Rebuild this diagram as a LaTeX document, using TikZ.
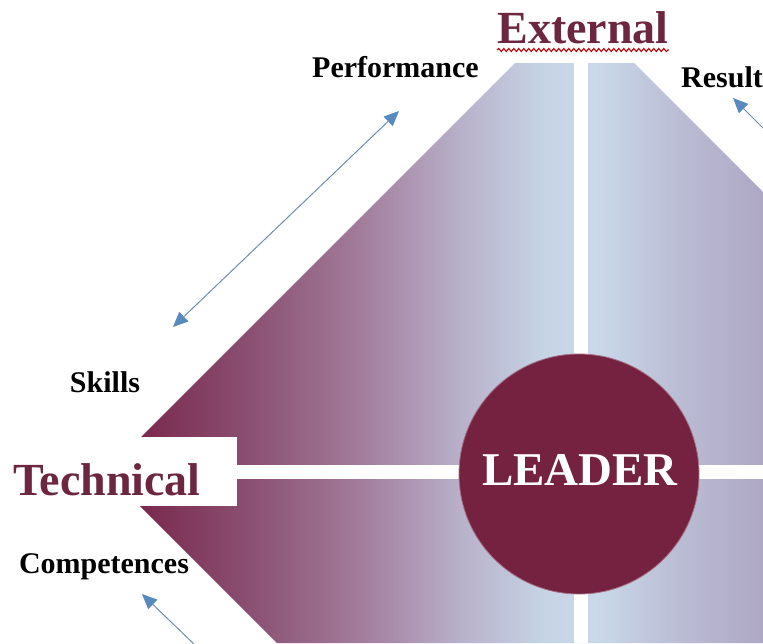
\documentclass[tikz,border=0pt]{standalone}
\usepackage{fontspec}
\setmainfont{Liberation Serif}
\usetikzlibrary{arrows.meta,decorations.pathmorphing}
\definecolor{leadermaroon}{RGB}{116,34,64}
\definecolor{txtmaroon}{RGB}{108,38,64}
\definecolor{arrowblue}{RGB}{88,138,192}
\definecolor{arrowline}{RGB}{110,142,176}
\definecolor{cza}{RGB}{122,42,78}
\definecolor{czb}{RGB}{138,80,114}
\definecolor{czc}{RGB}{162,124,155}
\definecolor{czd}{RGB}{184,176,202}
\definecolor{cze}{RGB}{198,212,230}
\definecolor{czf}{RGB}{202,217,234}
\definecolor{czg}{RGB}{186,188,212}
\definecolor{czh}{RGB}{174,168,196}
\pgfdeclarehorizontalshading{diamondshade}{100bp}{color(0bp)=(cza); color(27.7bp)=(cza); color(36bp)=(czb); color(44.3bp)=(czc); color(51.9bp)=(czd); color(58.4bp)=(cze); color(62.2bp)=(czf); color(68.7bp)=(czg); color(75bp)=(czh); color(100bp)=(czh)}
\tikzset{
  lbl/.style={inner sep=0pt, font=\fontsize{30}{36}\selectfont\bfseries, text=black},
  big/.style={inner sep=0pt, font=\fontsize{46}{54}\selectfont\bfseries, text=txtmaroon},
  arr/.style={draw=arrowline, line width=1pt},
  tip/.tip={Triangle[length=15pt,width=13pt,color=arrowblue]},
  gap/.style={fill=white, draw=none},
}
\begin{document}
\begin{tikzpicture}[x=1pt,y=-1pt]
\useasboundingbox (0,0) rectangle (763,643);
\fill[white] (0,0) rectangle (763,643);
% diamond
\shade[shading=diamondshade] (106,472) -- (515,63) -- (634,63) -- (763,192) -- (763,643) -- (277,643) -- cycle;
% white gaps
\fill[gap] (0,437) rectangle (237,506);
\fill[gap] (237,465) rectangle (763,479);
\fill[gap] (574,63) rectangle (588,643);
% leader circle
\node[circle, minimum size=240pt, fill=leadermaroon, draw=leadermaroon!65!white, line width=0.8pt, inner sep=0pt] (circ) at (579,474) {};
\node[inner sep=0pt, anchor=base, font=\fontsize{47}{54}\selectfont\bfseries, text=white] (leader) at (580,485) {LEADER};
% titles
\node[big, anchor=base] (ext) at (583,43) {External};
\draw[red!75!black, line width=1.1pt, decorate, decoration={snake, amplitude=1.5pt, segment length=5pt}] ([yshift=-7pt]ext.base west) -- ([yshift=-7pt]ext.base east);
\node[big, anchor=base west] (tech) at (13,495) {Technical};
% labels
\node[lbl, anchor=base west] (perf) at (312,77) {Performance};
\node[lbl, anchor=base west] (res) at (681,87) {Result};
\node[lbl, anchor=base] (skills) at (105,392) {Skills};
\node[lbl, anchor=base] (comp) at (104,573) {Competences};
% arrows
\coordinate (pa) at (173,327);
\coordinate (pb) at (399,111);
\draw[arr, tip-tip] (pa) -- (pb);
\coordinate (ra) at (766,131);
\coordinate (rb) at (733,98);
\draw[arr, -tip] (ra) -- (rb);
\coordinate (ca) at (195,645);
\coordinate (cb) at (142,594);
\draw[arr, -tip] (ca) -- (cb);
\end{tikzpicture}
\end{document}
